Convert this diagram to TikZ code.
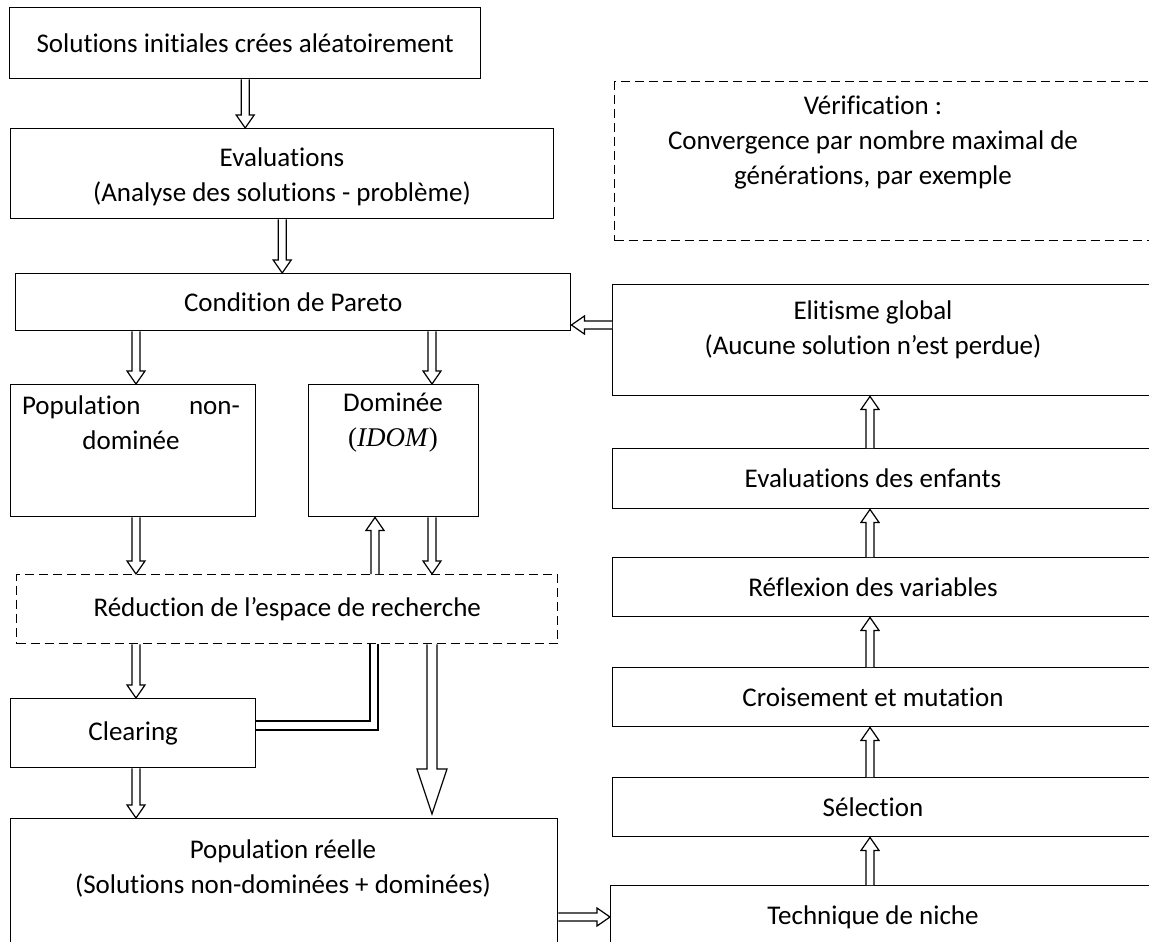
\documentclass[tikz,border=0pt]{standalone}
\usepackage{fontspec}
\setmainfont{Carlito}[Ligatures=NoCommon]
\newfontfamily\mathlike{Liberation Serif}
\usetikzlibrary{calc}
\newcommand\fs{\fontsize{27}{35}\selectfont}
\tikzset{
  box/.style={draw, line width=1.4pt, rectangle, inner sep=0pt, anchor=north west, align=center, font=\fs},
  dbox/.style={box, dash pattern=on 9pt off 5pt},
  txt/.style={inner sep=0pt, align=center, font=\fs},
  harrow/.style={draw, fill=white, line width=1.2pt, line join=miter},
  pipe/.style={draw, line width=1.2pt},
}
% #1 from, #2 to, #3 shaft half width, #4 head half width, #5 head length
\newcommand\hollowarrow[5]{%
  \path (#1) coordinate (ha-s) (#2) coordinate (ha-e);
  \path ($(ha-e)!#5!(ha-s)$) coordinate (ha-h);
  \draw[harrow] ($(ha-s)!#3!90:(ha-e)$) -- ($(ha-h)!#3!90:(ha-e)$) -- ($(ha-h)!#4!90:(ha-e)$)
    -- (ha-e) -- ($(ha-h)!#4!-90:(ha-e)$) -- ($(ha-h)!#3!-90:(ha-e)$) -- ($(ha-s)!#3!-90:(ha-e)$);
}
\newcommand\harr[2]{\hollowarrow{#1}{#2}{4pt}{9pt}{13pt}}
\begin{document}
\begin{tikzpicture}[x=1pt,y=1pt]
\useasboundingbox (0,0) rectangle (1149,-942);
\clip (0,0) rectangle (1149,-942);
% ---------- left column ----------
\node[box, minimum width=471pt, minimum height=71pt] (init) at (9,-7) {Solutions initiales crées aléatoirement};
\node[box, minimum width=543pt, minimum height=90pt] (eval) at (10,-128) {};
\node[txt] (eval-t) at (282,-177) {Evaluations\\(Analyse des solutions - problème)};
\node[box, minimum width=555pt, minimum height=57pt] (pareto) at (15,-273) {Condition de Pareto};
\node[box, minimum width=245pt, minimum height=132pt] (nondom) at (10,-384) {};
\node[txt] (nondom-t) at (131,-423) {\makebox[218pt]{Population\hfill non-}\\dominée};
\node[box, minimum width=170pt, minimum height=132pt] (dom) at (308,-384) {};
\node[txt] (dom-t) at (393,-423) {Dominée\\{\mathlike(\textit{IDOM})}};
\node[dbox, minimum width=541pt, minimum height=69pt] (reduc) at (16,-574) {Réduction de l’espace de recherche};
\node[box, minimum width=245pt, minimum height=69pt] (clear) at (10,-698) {Clearing};
\node[box, minimum width=547pt, minimum height=170pt] (reelle) at (10,-818) {};
\node[txt] (reelle-t) at (283,-868) {Population réelle\\(Solutions non-dominées + dominées)};
% ---------- right column ----------
\node[dbox, minimum width=600pt, minimum height=159pt] (verif) at (614,-81) {};
\node[txt] (verif-t) at (873,-143) {Vérification :\\Convergence par nombre maximal de\\générations, par exemple};
\node[box, minimum width=600pt, minimum height=111pt] (elit) at (612,-284) {};
\node[txt] (elit-t) at (873,-330) {Elitisme global\\(Aucune solution n’est perdue)};
\node[box, minimum width=600pt, minimum height=60pt] (enf) at (612,-448) {};
\node[txt] (enf-t) at (873,-478) {Evaluations des enfants};
\node[box, minimum width=600pt, minimum height=59pt] (refl) at (612,-557) {};
\node[txt] (refl-t) at (873,-587) {Réflexion des variables};
\node[box, minimum width=600pt, minimum height=59pt] (crois) at (612,-667) {};
\node[txt] (crois-t) at (873,-697) {Croisement et mutation};
\node[box, minimum width=600pt, minimum height=59pt] (sel) at (612,-777) {};
\node[txt] (sel-t) at (873,-807) {Sélection};
\node[box, minimum width=600pt, minimum height=150pt] (tech) at (610,-885) {};
\node[txt] (tech-t) at (873,-917) {Technique de niche};
% ---------- connectors ----------
\harr{init.south}{init.south |- eval.north}
\harr{eval.south}{eval.south |- pareto.north}
\harr{136,0 |- pareto.south}{136,0 |- nondom.north}
\harr{432,0 |- pareto.south}{432,0 |- dom.north}
\harr{136,0 |- nondom.south}{136,0 |- reduc.north}
\harr{375,0 |- reduc.north}{375,0 |- dom.south}
\harr{432,0 |- dom.south}{432,0 |- reduc.north}
\harr{136,0 |- reduc.south}{136,0 |- clear.north}
\harr{136,0 |- clear.south}{136,0 |- reelle.north}
\hollowarrow{432,0 |- reduc.south}{$(432,0 |- reelle.north)+(0,4)$}{5pt}{15pt}{45pt}
\draw[pipe] (clear.east |- 0,-721) -- (370,-721) -- (370,0 |- reduc.south);
\draw[pipe] (clear.east |- 0,-730) -- (378,-730) -- (378,0 |- reduc.south);
\harr{elit.west |- 0,-325}{pareto.east |- 0,-325}
\harr{870,0 |- enf.north}{870,0 |- elit.south}
\harr{870,0 |- refl.north}{870,0 |- enf.south}
\harr{870,0 |- crois.north}{870,0 |- refl.south}
\harr{870,0 |- sel.north}{870,0 |- crois.south}
\harr{870,0 |- tech.north}{870,0 |- sel.south}
\harr{reelle.east |- 0,-917}{tech.west |- 0,-917}
\end{tikzpicture}
\end{document}
